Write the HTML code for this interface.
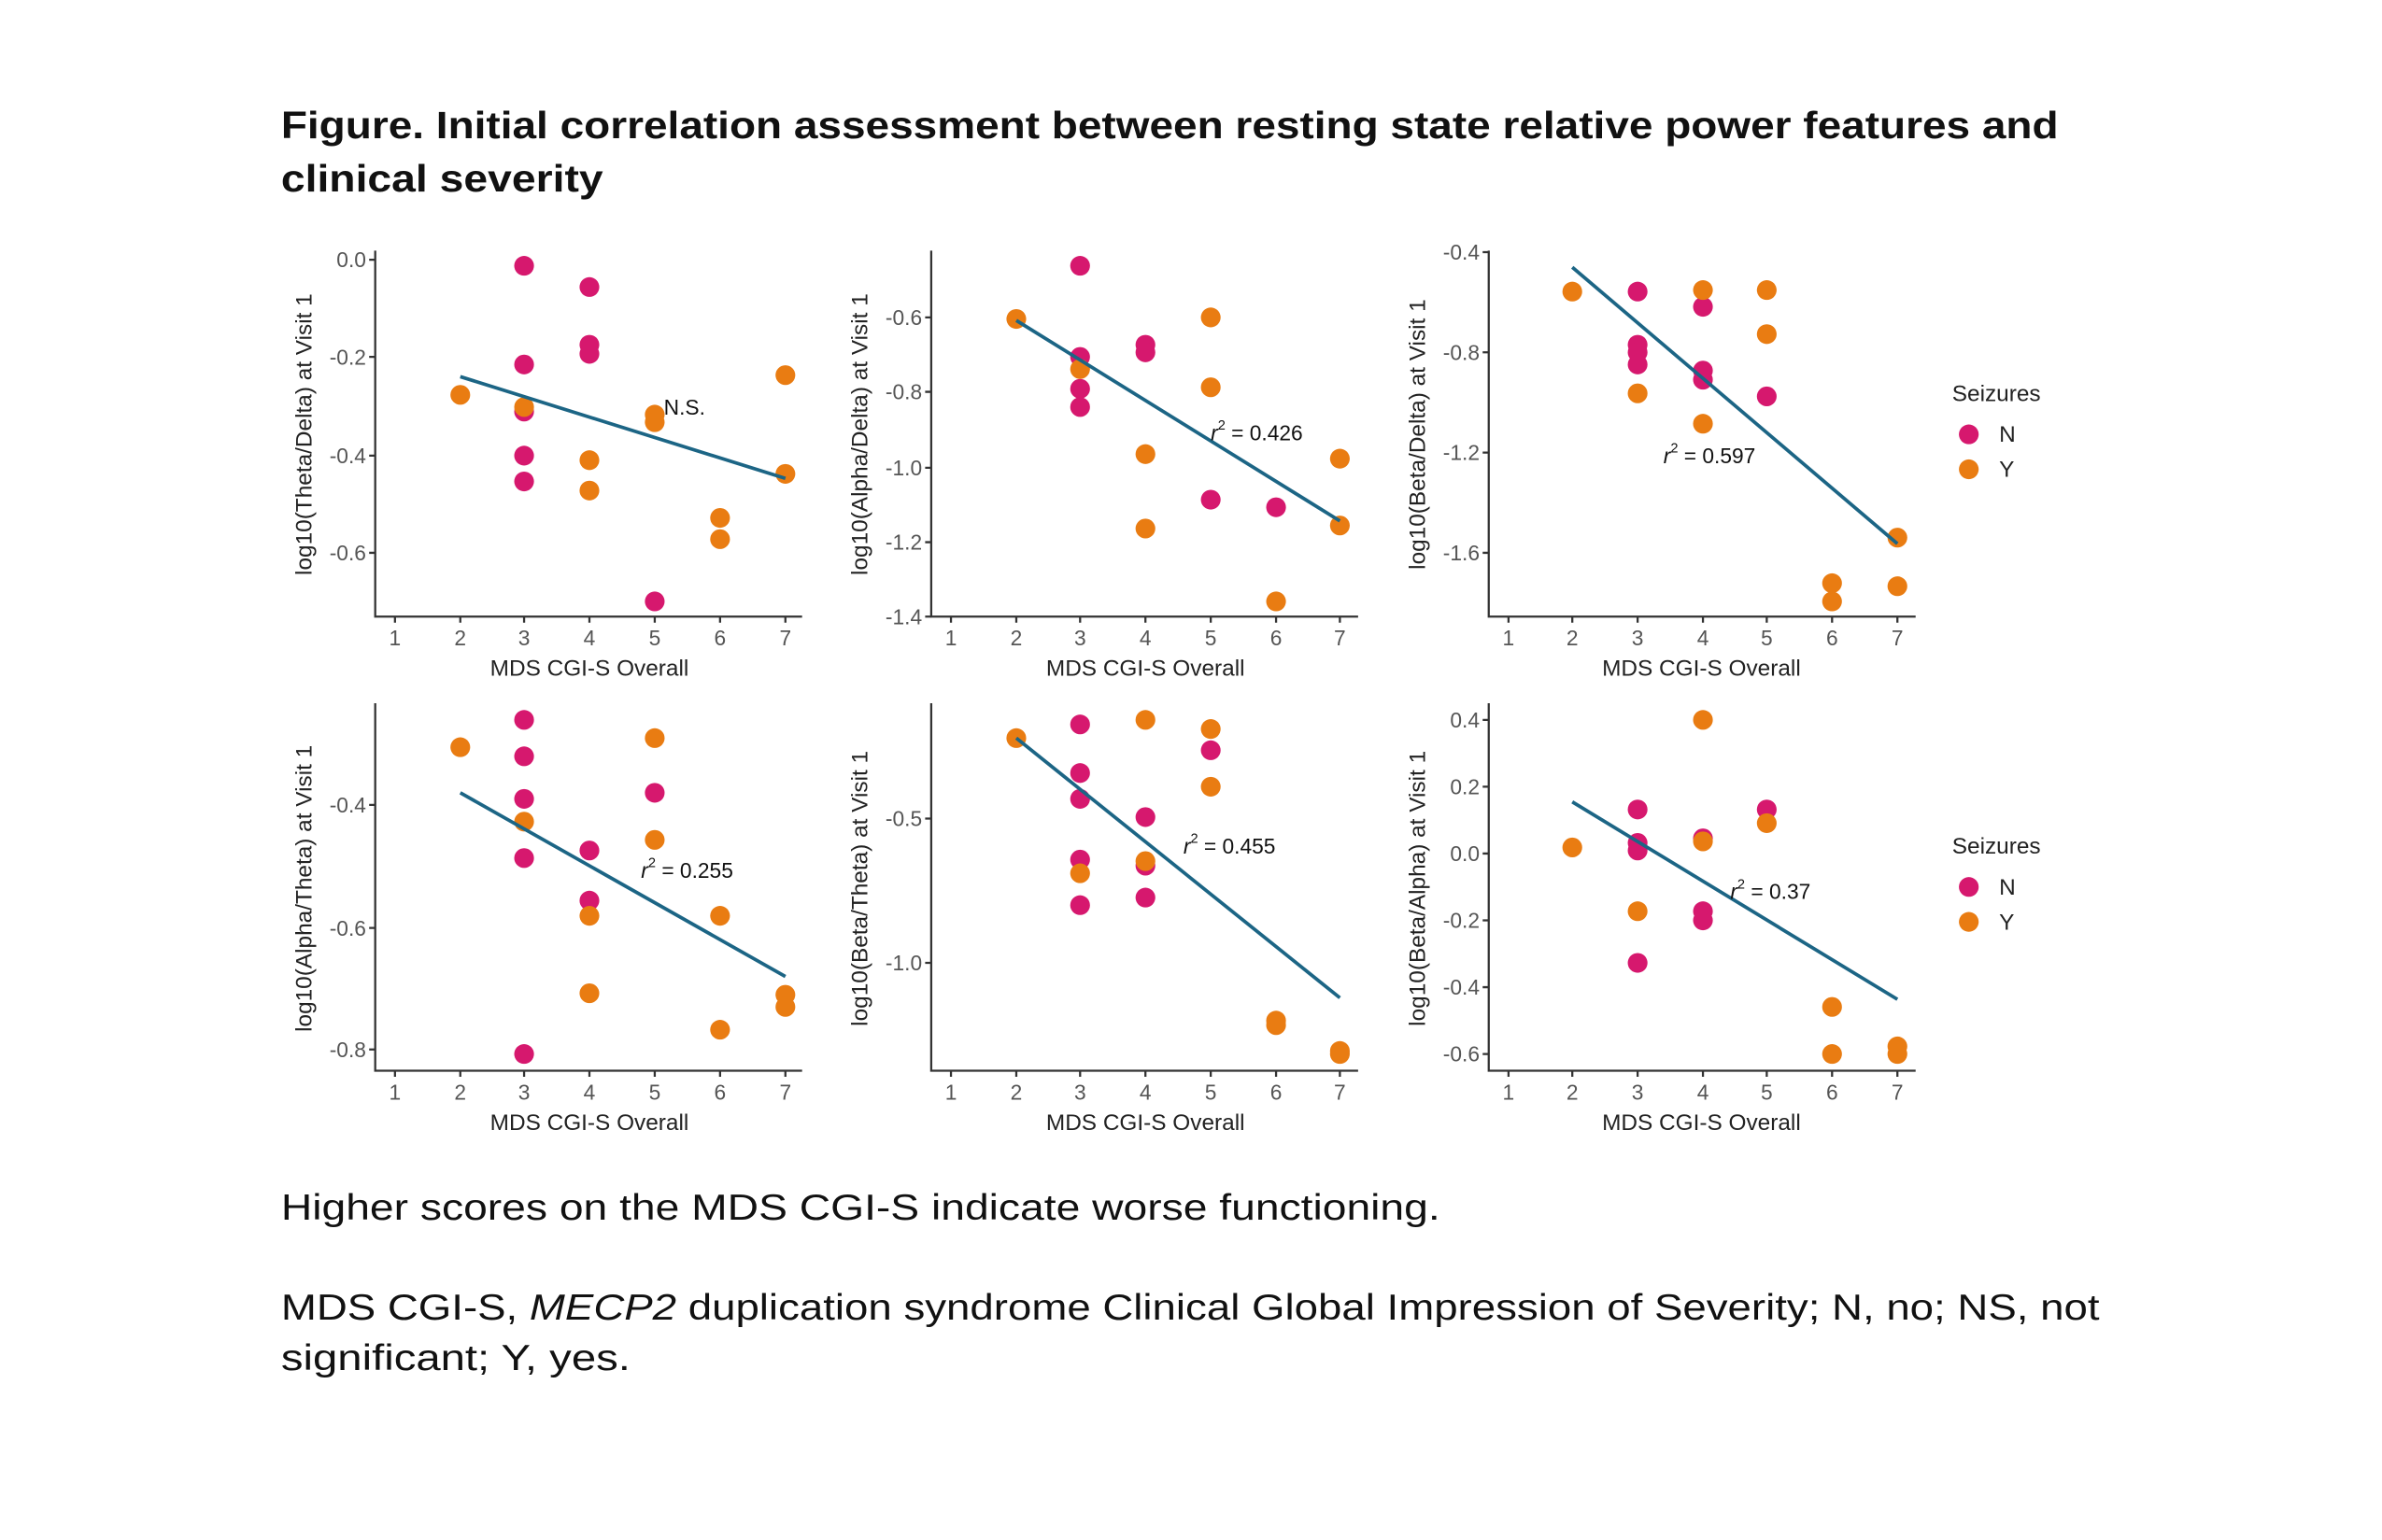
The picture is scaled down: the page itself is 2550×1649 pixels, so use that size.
<!DOCTYPE html>
<html><head><meta charset="utf-8"><style>html,body{margin:0;padding:0;background:#fff}svg{display:block}</style></head>
<body>
<svg width="2550" height="1649" viewBox="0 0 1568 1014" preserveAspectRatio="none" xmlns="http://www.w3.org/2000/svg" font-family="Liberation Sans, sans-serif">
<rect width="1568" height="1014" fill="#fff"/>
<text x="185" y="91" font-size="25" font-weight="bold" textLength="1170" lengthAdjust="spacingAndGlyphs" fill="#111">Figure. Initial correlation assessment between resting state relative power features and</text>
<text x="185" y="126" font-size="25" font-weight="bold" textLength="212" lengthAdjust="spacingAndGlyphs" fill="#111">clinical severity</text>

<g stroke="#333" stroke-width="1.4" fill="none">
<path d="M247 165V406H528M613 165V406H894M980 165V406H1261M247 463V705H528M613 463V705H894M980 463V705H1261"/>
<path d="M260 406v4M303 406v4M345 406v4M388 406v4M431 406v4M474 406v4M517 406v4"/>
<path d="M626 406v4M669 406v4M711 406v4M754 406v4M797 406v4M840 406v4M882 406v4"/>
<path d="M993 406v4M1035 406v4M1078 406v4M1121 406v4M1163 406v4M1206 406v4M1249 406v4"/>
<path d="M260 705v4M303 705v4M345 705v4M388 705v4M431 705v4M474 705v4M517 705v4"/>
<path d="M626 705v4M669 705v4M711 705v4M754 705v4M797 705v4M840 705v4M882 705v4"/>
<path d="M993 705v4M1035 705v4M1078 705v4M1121 705v4M1163 705v4M1206 705v4M1249 705v4"/>
<path d="M247 171h-4M247 235h-4M247 300h-4M247 364h-4"/>
<path d="M613 209h-4M613 258h-4M613 308h-4M613 357h-4M613 406h-4"/>
<path d="M980 166h-4M980 232h-4M980 298h-4M980 364h-4"/>
<path d="M247 530h-4M247 611h-4M247 691h-4"/>
<path d="M613 539h-4M613 634h-4"/>
<path d="M980 474h-4M980 518h-4M980 562h-4M980 606h-4M980 650h-4M980 694h-4"/>
</g>

<g font-size="14" fill="#555" text-anchor="middle">
<text x="260" y="425">1</text><text x="303" y="425">2</text><text x="345" y="425">3</text><text x="388" y="425">4</text><text x="431" y="425">5</text><text x="474" y="425">6</text><text x="517" y="425">7</text>
<text x="626" y="425">1</text><text x="669" y="425">2</text><text x="711" y="425">3</text><text x="754" y="425">4</text><text x="797" y="425">5</text><text x="840" y="425">6</text><text x="882" y="425">7</text>
<text x="993" y="425">1</text><text x="1035" y="425">2</text><text x="1078" y="425">3</text><text x="1121" y="425">4</text><text x="1163" y="425">5</text><text x="1206" y="425">6</text><text x="1249" y="425">7</text>
<text x="260" y="724">1</text><text x="303" y="724">2</text><text x="345" y="724">3</text><text x="388" y="724">4</text><text x="431" y="724">5</text><text x="474" y="724">6</text><text x="517" y="724">7</text>
<text x="626" y="724">1</text><text x="669" y="724">2</text><text x="711" y="724">3</text><text x="754" y="724">4</text><text x="797" y="724">5</text><text x="840" y="724">6</text><text x="882" y="724">7</text>
<text x="993" y="724">1</text><text x="1035" y="724">2</text><text x="1078" y="724">3</text><text x="1121" y="724">4</text><text x="1163" y="724">5</text><text x="1206" y="724">6</text><text x="1249" y="724">7</text>
</g>
<g font-size="14" fill="#555" text-anchor="end">
<text x="241" y="176">0.0</text><text x="241" y="240">-0.2</text><text x="241" y="305">-0.4</text><text x="241" y="369">-0.6</text>
<text x="607" y="214">-0.6</text><text x="607" y="263">-0.8</text><text x="607" y="313">-1.0</text><text x="607" y="362">-1.2</text><text x="607" y="411">-1.4</text>
<text x="974" y="171">-0.4</text><text x="974" y="237">-0.8</text><text x="974" y="303">-1.2</text><text x="974" y="369">-1.6</text>
<text x="241" y="535">-0.4</text><text x="241" y="616">-0.6</text><text x="241" y="696">-0.8</text>
<text x="607" y="544">-0.5</text><text x="607" y="639">-1.0</text>
<text x="974" y="479">0.4</text><text x="974" y="523">0.2</text><text x="974" y="567">0.0</text><text x="974" y="611">-0.2</text><text x="974" y="655">-0.4</text><text x="974" y="699">-0.6</text>
</g>
<g font-size="15" fill="#222" text-anchor="middle">
<text x="388" y="445">MDS CGI-S Overall</text><text x="754" y="445">MDS CGI-S Overall</text><text x="1120" y="445">MDS CGI-S Overall</text>
<text x="388" y="744">MDS CGI-S Overall</text><text x="754" y="744">MDS CGI-S Overall</text><text x="1120" y="744">MDS CGI-S Overall</text>
<text transform="translate(205,286) rotate(-90)">log10(Theta/Delta) at Visit 1</text>
<text transform="translate(571,286) rotate(-90)">log10(Alpha/Delta) at Visit 1</text>
<text transform="translate(938,286) rotate(-90)">log10(Beta/Delta) at Visit 1</text>
<text transform="translate(205,585) rotate(-90)">log10(Alpha/Theta) at Visit 1</text>
<text transform="translate(571,585) rotate(-90)">log10(Beta/Theta) at Visit 1</text>
<text transform="translate(938,585) rotate(-90)">log10(Beta/Alpha) at Visit 1</text>
</g>

<g fill="#d6186e">
<circle cx="345" cy="175" r="6.5"/><circle cx="345" cy="240" r="6.5"/><circle cx="345" cy="271" r="6.5"/><circle cx="345" cy="300" r="6.5"/><circle cx="345" cy="317" r="6.5"/>
<circle cx="388" cy="189" r="6.5"/><circle cx="388" cy="227" r="6.5"/><circle cx="388" cy="233" r="6.5"/><circle cx="431" cy="396" r="6.5"/>
<circle cx="711" cy="175" r="6.5"/><circle cx="711" cy="235" r="6.5"/><circle cx="711" cy="256" r="6.5"/><circle cx="711" cy="268" r="6.5"/>
<circle cx="754" cy="227" r="6.5"/><circle cx="754" cy="232" r="6.5"/><circle cx="797" cy="329" r="6.5"/><circle cx="840" cy="334" r="6.5"/>
<circle cx="1078" cy="192" r="6.5"/><circle cx="1078" cy="227" r="6.5"/><circle cx="1078" cy="232" r="6.5"/><circle cx="1078" cy="240" r="6.5"/>
<circle cx="1121" cy="202" r="6.5"/><circle cx="1121" cy="244" r="6.5"/><circle cx="1121" cy="250" r="6.5"/><circle cx="1163" cy="261" r="6.5"/>
<circle cx="345" cy="474" r="6.5"/><circle cx="345" cy="498" r="6.5"/><circle cx="345" cy="526" r="6.5"/><circle cx="345" cy="565" r="6.5"/><circle cx="345" cy="694" r="6.5"/>
<circle cx="388" cy="560" r="6.5"/><circle cx="388" cy="593" r="6.5"/><circle cx="431" cy="522" r="6.5"/>
<circle cx="711" cy="477" r="6.5"/><circle cx="711" cy="509" r="6.5"/><circle cx="711" cy="526" r="6.5"/><circle cx="711" cy="566" r="6.5"/><circle cx="711" cy="596" r="6.5"/>
<circle cx="754" cy="538" r="6.5"/><circle cx="754" cy="570" r="6.5"/><circle cx="754" cy="591" r="6.5"/><circle cx="797" cy="494" r="6.5"/>
<circle cx="1078" cy="533" r="6.5"/><circle cx="1078" cy="555" r="6.5"/><circle cx="1078" cy="560" r="6.5"/><circle cx="1078" cy="634" r="6.5"/>
<circle cx="1121" cy="552" r="6.5"/><circle cx="1121" cy="600" r="6.5"/><circle cx="1121" cy="606" r="6.5"/><circle cx="1163" cy="533" r="6.5"/>
<circle cx="1296" cy="286" r="6.5"/><circle cx="1296" cy="584" r="6.5"/>
</g>
<g fill="#e97c12">
<circle cx="303" cy="260" r="6.5"/><circle cx="345" cy="268" r="6.5"/><circle cx="388" cy="303" r="6.5"/><circle cx="388" cy="323" r="6.5"/>
<circle cx="431" cy="273" r="6.5"/><circle cx="431" cy="278" r="6.5"/><circle cx="474" cy="341" r="6.5"/><circle cx="474" cy="355" r="6.5"/><circle cx="517" cy="247" r="6.5"/><circle cx="517" cy="312" r="6.5"/>
<circle cx="669" cy="210" r="6.5"/><circle cx="711" cy="243" r="6.5"/><circle cx="754" cy="299" r="6.5"/><circle cx="754" cy="348" r="6.5"/>
<circle cx="797" cy="209" r="6.5"/><circle cx="797" cy="255" r="6.5"/><circle cx="840" cy="396" r="6.5"/><circle cx="882" cy="302" r="6.5"/><circle cx="882" cy="346" r="6.5"/>
<circle cx="1035" cy="192" r="6.5"/><circle cx="1078" cy="259" r="6.5"/><circle cx="1121" cy="191" r="6.5"/><circle cx="1121" cy="279" r="6.5"/>
<circle cx="1163" cy="191" r="6.5"/><circle cx="1163" cy="220" r="6.5"/><circle cx="1206" cy="384" r="6.5"/><circle cx="1206" cy="396" r="6.5"/><circle cx="1249" cy="354" r="6.5"/><circle cx="1249" cy="386" r="6.5"/>
<circle cx="303" cy="492" r="6.5"/><circle cx="345" cy="541" r="6.5"/><circle cx="388" cy="603" r="6.5"/><circle cx="388" cy="654" r="6.5"/>
<circle cx="431" cy="486" r="6.5"/><circle cx="431" cy="553" r="6.5"/><circle cx="474" cy="603" r="6.5"/><circle cx="474" cy="678" r="6.5"/><circle cx="517" cy="655" r="6.5"/><circle cx="517" cy="663" r="6.5"/>
<circle cx="669" cy="486" r="6.5"/><circle cx="711" cy="575" r="6.5"/><circle cx="754" cy="474" r="6.5"/><circle cx="754" cy="567" r="6.5"/>
<circle cx="797" cy="480" r="6.5"/><circle cx="797" cy="518" r="6.5"/><circle cx="840" cy="672" r="6.5"/><circle cx="840" cy="675" r="6.5"/><circle cx="882" cy="692" r="6.5"/><circle cx="882" cy="694" r="6.5"/>
<circle cx="1035" cy="558" r="6.5"/><circle cx="1078" cy="600" r="6.5"/><circle cx="1121" cy="474" r="6.5"/><circle cx="1121" cy="554" r="6.5"/>
<circle cx="1163" cy="542" r="6.5"/><circle cx="1206" cy="663" r="6.5"/><circle cx="1206" cy="694" r="6.5"/><circle cx="1249" cy="689" r="6.5"/><circle cx="1249" cy="694" r="6.5"/>
<circle cx="1296" cy="309" r="6.5"/><circle cx="1296" cy="607" r="6.5"/>
</g>

<g stroke="#1c6585" stroke-width="2.3" fill="none">
<path d="M303 248L517 315"/><path d="M669 211L882 343"/><path d="M1035 176L1249 358"/>
<path d="M303 522L517 643"/><path d="M669 486L882 657"/><path d="M1035 528L1249 658"/>
</g>

<g font-size="14" fill="#111">
<text x="437" y="273">N.S.</text>
<text x="797" y="290"><tspan font-style="italic">r</tspan><tspan font-size="9" dy="-7">2</tspan><tspan dy="7"> = 0.426</tspan></text>
<text x="1095" y="305"><tspan font-style="italic">r</tspan><tspan font-size="9" dy="-7">2</tspan><tspan dy="7"> = 0.597</tspan></text>
<text x="422" y="578"><tspan font-style="italic">r</tspan><tspan font-size="9" dy="-7">2</tspan><tspan dy="7"> = 0.255</tspan></text>
<text x="779" y="562"><tspan font-style="italic">r</tspan><tspan font-size="9" dy="-7">2</tspan><tspan dy="7"> = 0.455</tspan></text>
<text x="1139" y="592"><tspan font-style="italic">r</tspan><tspan font-size="9" dy="-7">2</tspan><tspan dy="7"> = 0.37</tspan></text>
</g>
<g font-size="15" fill="#222">
<text x="1285" y="264">Seizures</text><text x="1316" y="291">N</text><text x="1316" y="314">Y</text>
<text x="1285" y="562">Seizures</text><text x="1316" y="589">N</text><text x="1316" y="612">Y</text>
</g>

<g font-size="24" fill="#111">
<text x="185" y="803" textLength="763" lengthAdjust="spacingAndGlyphs">Higher scores on the MDS CGI-S indicate worse functioning.</text>
<text x="185" y="869" textLength="1197" lengthAdjust="spacingAndGlyphs">MDS CGI-S, <tspan font-style="italic">MECP2</tspan> duplication syndrome Clinical Global Impression of Severity; N, no; NS, not</text>
<text x="185" y="902" textLength="230" lengthAdjust="spacingAndGlyphs">significant; Y, yes.</text>
</g>
</svg>
</body></html>
